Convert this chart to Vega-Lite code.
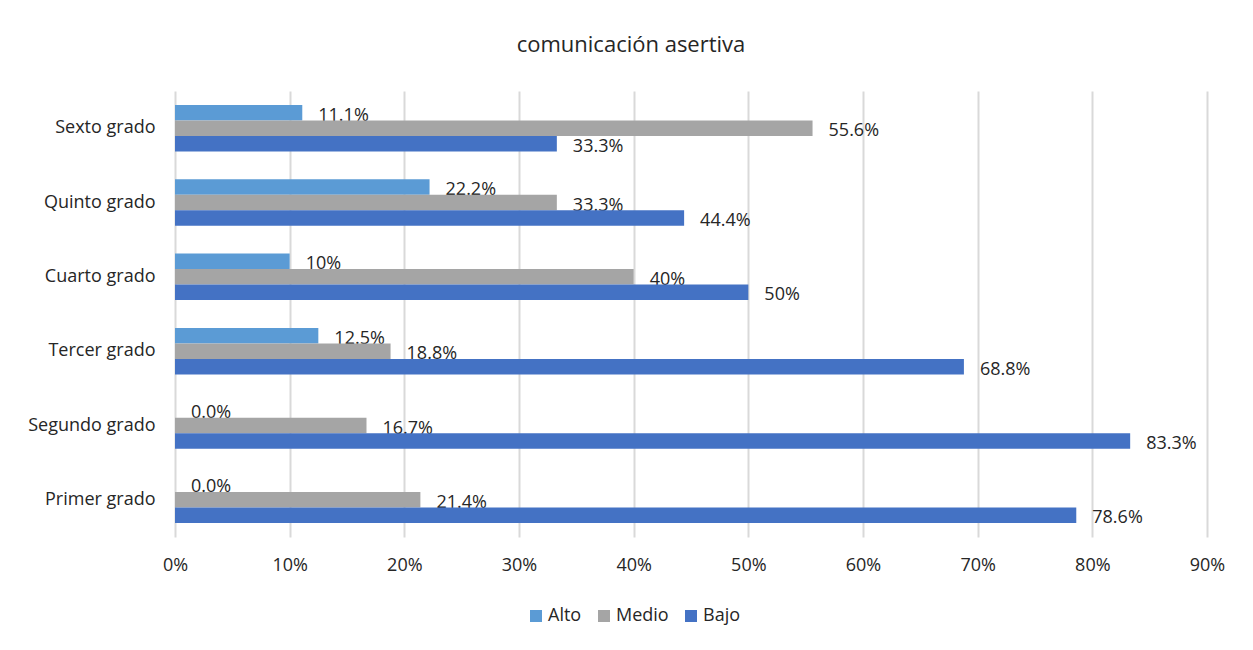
{
  "$schema": "https://vega.github.io/schema/vega-lite/v6.json",
  "autosize": {"type": "none"},
  "padding": {"left": 175, "top": 91, "right": 46, "bottom": 113},
  "width": 1032,
  "height": 446,
  "background": "white",
  "title": {
    "text": "comunicación asertiva",
    "anchor": "middle",
    "frame": "group",
    "dx": -60,
    "offset": 17,
    "baseline": "alphabetic",
    "font": "Open Sans",
    "fontSize": 22,
    "fontWeight": "normal",
    "color": "#262626"
  },
  "config": {
    "view": {"stroke": null},
    "font": "Open Sans",
    "text": {"font": "Open Sans"}
  },
  "data": {
    "values": [
      {"grado": "Sexto grado", "nivel": "Alto", "valor": 0.111, "etiqueta": "11.1%"},
      {"grado": "Sexto grado", "nivel": "Medio", "valor": 0.556, "etiqueta": "55.6%"},
      {"grado": "Sexto grado", "nivel": "Bajo", "valor": 0.333, "etiqueta": "33.3%"},
      {"grado": "Quinto grado", "nivel": "Alto", "valor": 0.222, "etiqueta": "22.2%"},
      {"grado": "Quinto grado", "nivel": "Medio", "valor": 0.333, "etiqueta": "33.3%"},
      {"grado": "Quinto grado", "nivel": "Bajo", "valor": 0.444, "etiqueta": "44.4%"},
      {"grado": "Cuarto grado", "nivel": "Alto", "valor": 0.10, "etiqueta": "10%"},
      {"grado": "Cuarto grado", "nivel": "Medio", "valor": 0.40, "etiqueta": "40%"},
      {"grado": "Cuarto grado", "nivel": "Bajo", "valor": 0.50, "etiqueta": "50%"},
      {"grado": "Tercer grado", "nivel": "Alto", "valor": 0.125, "etiqueta": "12.5%"},
      {"grado": "Tercer grado", "nivel": "Medio", "valor": 0.188, "etiqueta": "18.8%"},
      {"grado": "Tercer grado", "nivel": "Bajo", "valor": 0.688, "etiqueta": "68.8%"},
      {"grado": "Segundo grado", "nivel": "Alto", "valor": 0.0, "etiqueta": "0.0%"},
      {"grado": "Segundo grado", "nivel": "Medio", "valor": 0.167, "etiqueta": "16.7%"},
      {"grado": "Segundo grado", "nivel": "Bajo", "valor": 0.833, "etiqueta": "83.3%"},
      {"grado": "Primer grado", "nivel": "Alto", "valor": 0.0, "etiqueta": "0.0%"},
      {"grado": "Primer grado", "nivel": "Medio", "valor": 0.214, "etiqueta": "21.4%"},
      {"grado": "Primer grado", "nivel": "Bajo", "valor": 0.786, "etiqueta": "78.6%"}
    ]
  },
  "encoding": {
    "y": {
      "field": "grado",
      "type": "nominal",
      "sort": ["Sexto grado", "Quinto grado", "Cuarto grado", "Tercer grado", "Segundo grado", "Primer grado"],
      "scale": {"paddingInner": 0.374, "paddingOuter": 0.187},
      "axis": {
        "title": null,
        "domain": false,
        "ticks": false,
        "tickSize": 0,
        "labelPadding": 20,
        "labelFont": "Open Sans",
        "labelFontSize": 18,
        "labelColor": "#262626"
      }
    },
    "yOffset": {
      "field": "nivel",
      "type": "nominal",
      "sort": ["Alto", "Medio", "Bajo"],
      "scale": {"paddingInner": 0, "paddingOuter": 0}
    },
    "x": {
      "field": "valor",
      "type": "quantitative",
      "scale": {"domain": [0, 0.9], "nice": false},
      "axis": {
        "title": null,
        "format": ".0%",
        "values": [0, 0.1, 0.2, 0.3, 0.4, 0.5, 0.6, 0.7, 0.8, 0.9],
        "domain": false,
        "ticks": false,
        "tickSize": 0,
        "labelFlush": false,
        "labelPadding": 19,
        "labelFont": "Open Sans",
        "labelFontSize": 18,
        "labelColor": "#262626",
        "grid": true,
        "gridColor": "#d9d9d9",
        "gridWidth": 2
      }
    }
  },
  "layer": [
    {
      "mark": {"type": "text", "align": "left", "baseline": "middle", "dx": 16, "dy": 3, "fontSize": 18, "font": "Open Sans", "color": "#262626"},
      "encoding": {
        "text": {"field": "etiqueta", "type": "nominal"}
      }
    },
    {
      "mark": {"type": "bar"},
      "encoding": {
        "color": {
          "field": "nivel",
          "type": "nominal",
          "sort": ["Alto", "Medio", "Bajo"],
          "scale": {"domain": ["Alto", "Medio", "Bajo"], "range": ["#5B9BD5", "#A5A5A5", "#4472C4"]},
          "legend": {
            "title": null,
            "orient": "none",
            "direction": "horizontal",
            "legendX": 352,
            "legendY": 516,
            "padding": 0,
            "symbolType": "square",
            "symbolSize": 144,
            "symbolStrokeWidth": 0,
            "labelOffset": 3,
            "columnPadding": 13,
            "labelFont": "Open Sans",
            "labelFontSize": 18,
            "labelColor": "#262626"
          }
        }
      }
    }
  ]
}
